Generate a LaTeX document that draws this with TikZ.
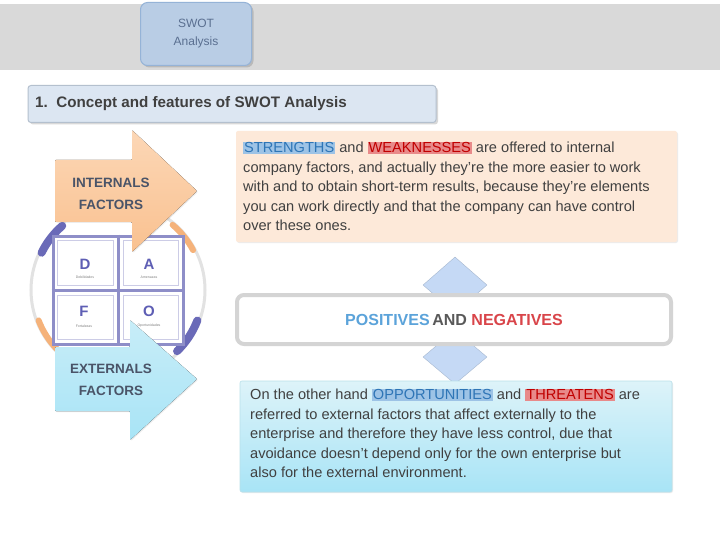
\documentclass[tikz,border=0pt]{standalone}
\usepackage{fontspec}
\setmainfont{Liberation Sans}
\usetikzlibrary{shapes.geometric,shadows}
\definecolor{bandgray}{HTML}{D9D9D9}
\definecolor{titlefill}{HTML}{B9CDE5}
\definecolor{titledraw}{HTML}{95B3D7}
\definecolor{titletext}{HTML}{5A6F90}
\definecolor{secfill}{HTML}{DCE6F2}
\definecolor{secdraw}{HTML}{B4C0CE}
\definecolor{peach}{HTML}{FDE9D9}
\definecolor{bodytext}{HTML}{404040}
\definecolor{hlblue}{HTML}{9DC3E6}
\definecolor{hlbluetxt}{HTML}{2E75B6}
\definecolor{hlred}{HTML}{E88A8A}
\definecolor{hlredtxt}{HTML}{C00000}
\definecolor{diafill}{HTML}{C5D9F5}
\definecolor{posblue}{HTML}{5BA3DA}
\definecolor{andgray}{HTML}{595959}
\definecolor{negred}{HTML}{D9454A}
\definecolor{boxgray}{HTML}{D4D4D4}
\definecolor{cyantop}{HTML}{DDF3F9}
\definecolor{cyanbot}{HTML}{A8E4F6}
\definecolor{cyandraw}{HTML}{B9E0EA}
\definecolor{circgray}{HTML}{E2E2E2}
\definecolor{gridpurple}{HTML}{8E8EC8}
\definecolor{letterpurple}{HTML}{5E5EB4}
\definecolor{arcpurple}{HTML}{6A6AB8}
\definecolor{arcorange}{HTML}{F5B27A}
\definecolor{orangetop}{HTML}{FCD7B6}
\definecolor{orangebot}{HTML}{F9C190}
\definecolor{arrowtxt}{HTML}{4A5468}
\newcommand{\hlB}[1]{{\setlength{\fboxsep}{1pt}\colorbox{hlblue}{\textcolor{hlbluetxt}{#1}}}}
\newcommand{\hlR}[1]{{\setlength{\fboxsep}{1pt}\colorbox{hlred}{\textcolor{hlredtxt}{#1}}}}
\tikzset{
  titlebox/.style={draw=titledraw, fill=titlefill, rounded corners=7pt, line width=1pt,
    drop shadow={shadow xshift=2pt, shadow yshift=-2pt, opacity=0.35}},
  secbox/.style={draw=secdraw, fill=secfill, rounded corners=3pt, line width=1pt,
    drop shadow={shadow xshift=2pt, shadow yshift=-2pt, opacity=0.3}},
  textbox/.style={rounded corners=2pt,
    drop shadow={shadow xshift=1pt, shadow yshift=-1pt, opacity=0.15}},
  bodypara/.style={anchor=north west, inner sep=0pt, align=left, text=bodytext,
    font=\fontsize{14.6}{19.4}\selectfont},
  dia/.style={diamond, fill=diafill, draw=diafill!85!black, line width=0.4pt},
  arrowlabel/.style={font=\bfseries\fontsize{13.5}{22}\selectfont, text=arrowtxt, align=center},
  letter/.style={font=\bfseries\fontsize{15}{15}\selectfont, text=letterpurple},
  tiny/.style={font=\fontsize{3.5}{4}\selectfont, text=gray},
  arcP/.style={draw=arcpurple, line width=8pt, line cap=round},
  arcO/.style={draw=arcorange, line width=6pt, line cap=round}
}
\begin{document}
\begin{tikzpicture}[x=1pt,y=-1pt]
\useasboundingbox (0,0) rectangle (720,540);
\fill[white] (0,0) rectangle (720,540);
% top band
\fill[bandgray] (0,4) rectangle (720,70);
\node[titlebox, minimum width=111pt, minimum height=63pt, align=center,
  font=\fontsize{12}{18}\selectfont, text=titletext] (title) at (196,34) {SWOT\\Analysis};
% section bar
\node[secbox, minimum width=408pt, minimum height=37pt] (sec) at (232,104) {};
\node[anchor=west, inner sep=0pt, font=\bfseries\fontsize{15.2}{17}\selectfont, text=bodytext]
  (sectxt) at (35,104) {1.\ \ Concept and features of SWOT Analysis};
% strengths box
\node[textbox, fill=peach, minimum width=441pt, minimum height=111pt] (strbox) at (456.5,186.5) {};
\node[bodypara] (strtxt) at (243,141.5) {\hlB{STRENGTHS} and \hlR{WEAKNESSES} are offered to internal\\
company factors, and actually they're the more easier to work\\
with and to obtain short-term results, because they're elements\\
you can work directly and that the company can have control\\
over these ones.};
% diamonds
\node[dia, minimum width=64pt, minimum height=56pt] (diaup) at (455,285) {};
\node[dia, minimum width=64pt, minimum height=54pt] (diadown) at (455,357) {};
% positives box
\node[draw=boxgray, line width=4pt, fill=white, rounded corners=7pt,
  minimum width=434pt, minimum height=49pt,
  font=\bfseries\fontsize{16}{18}\selectfont] (posbox) at (454,319.5)
  {\textcolor{posblue}{POSITIVES}\,\textcolor{andgray}{AND} \textcolor{negred}{NEGATIVES}};
% opportunities box
\node[textbox, top color=cyantop, bottom color=cyanbot, draw=cyandraw, line width=0.6pt,
  minimum width=432pt, minimum height=111pt] (oppbox) at (456,436.5) {};
\node[bodypara] (opptxt) at (250,388.5) {On the other hand \hlB{OPPORTUNITIES} and \hlR{THREATENS} are\\
referred to external factors that affect externally to the\\
enterprise and therefore they have less control, due that\\
avoidance doesn't depend only for the own enterprise but\\
also for the external environment.};
% left graphic: ring and arcs
\node[circle, draw=circgray, line width=3pt, minimum size=174pt] (ring) at (118,290) {};
\draw[arcP] (ring.center) ++(131:85pt) arc[start angle=131, end angle=154, radius=85pt];
\draw[arcO] (ring.center) ++(28:85pt) arc[start angle=28, end angle=50, radius=85pt];
\draw[arcO] (ring.center) ++(201:85pt) arc[start angle=201, end angle=224, radius=85pt];
\draw[arcP] (ring.center) ++(-46:85pt) arc[start angle=-46, end angle=-21, radius=85pt];
% grid
\node[draw=gridpurple, line width=3pt, fill=white, minimum width=130pt, minimum height=108pt] (grid) at (118,290) {};
\draw[gridpurple!45, line width=0.8pt] ([shift={(6pt,-6pt)}]grid.north west) rectangle ([shift={(-5pt,5pt)}]grid.center);
\draw[gridpurple!45, line width=0.8pt] ([shift={(5pt,-6pt)}]grid.north) rectangle ([shift={(-6pt,5pt)}]grid.east);
\draw[gridpurple!45, line width=0.8pt] ([shift={(6pt,-5pt)}]grid.west) rectangle ([shift={(-5pt,6pt)}]grid.south);
\draw[gridpurple!45, line width=0.8pt] ([shift={(5pt,-5pt)}]grid.center) rectangle ([shift={(-6pt,6pt)}]grid.south east);
\draw[gridpurple, line width=3pt] (grid.north) -- (grid.south);
\draw[gridpurple, line width=3pt] (grid.west) -- (grid.east);
\node[letter] (lD) at (85,264) {D};
\node[letter] (lA) at (149,264) {A};
\node[letter] (lF) at (84,311) {F};
\node[letter] (lO) at (149,311) {O};
\node[tiny] (tD) at (85,277) {Debilidades};
\node[tiny] (tA) at (149,277) {Amenazas};
\node[tiny] (tF) at (84,326) {Fortalezas};
\node[tiny] (tO) at (149,326) {Oportunidades};
% orange arrow
\fill[top color=orangetop, bottom color=orangebot, rounded corners=1pt,
  drop shadow={shadow xshift=1pt, shadow yshift=-1pt, opacity=0.15}]
  (55,160) -- (132,160) -- (132,130) -- (197,191) -- (132,252) -- (132,222) -- (55,222) -- cycle;
\node[arrowlabel] (inttxt) at (111,194) {INTERNALS\\FACTORS};
% cyan arrow
\fill[top color=cyantop!60!cyanbot, bottom color=cyanbot, rounded corners=1pt,
  drop shadow={shadow xshift=1pt, shadow yshift=-1pt, opacity=0.15}]
  (55,347) -- (130,347) -- (130,320) -- (197,379) -- (130,440) -- (130,411) -- (55,411) -- cycle;
\node[arrowlabel] (exttxt) at (111,380) {EXTERNALS\\FACTORS};
\end{tikzpicture}
\end{document}
